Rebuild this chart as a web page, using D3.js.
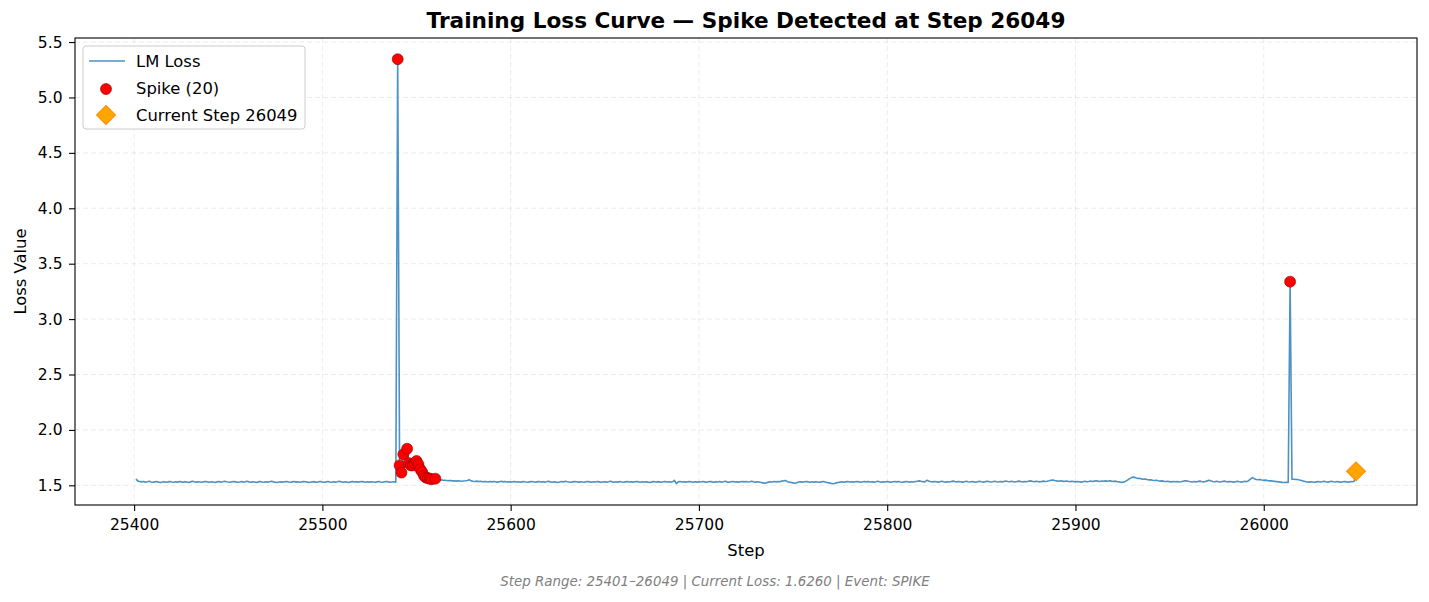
<!DOCTYPE html>
<html lang="en">
<head>
    <meta charset="UTF-8">
    <title>Training Loss Curve</title>
    <script src="https://d3js.org/d3.v7.min.js"></script>
    <style>
        body { margin: 0; background: #fff; }
        svg text { font-family: "DejaVu Sans", sans-serif; }
    </style>
</head>
<body>

<svg id="main" width="1429" height="602"></svg>
<script>

    // loss value for every step, first step = 25401
    const firstStep = 25401;
    const lossValues = [
        1.558, 1.538, 1.535, 1.531, 1.534, 1.529, 1.532, 1.536, 1.530, 1.527, 1.531, 1.534, 1.529, 1.526, 1.530, 1.533, 1.528, 1.531, 1.535, 1.530,
        1.527, 1.532, 1.529, 1.534, 1.531, 1.528, 1.533, 1.530, 1.526, 1.531, 1.536, 1.532, 1.529, 1.533, 1.530, 1.527, 1.532, 1.535, 1.531, 1.528,
        1.533, 1.530, 1.526, 1.531, 1.534, 1.529, 1.532, 1.537, 1.533, 1.530, 1.528, 1.532, 1.535, 1.531, 1.527, 1.530, 1.534, 1.529, 1.532, 1.536,
        1.531, 1.528, 1.533, 1.530, 1.526, 1.531, 1.534, 1.530, 1.527, 1.532, 1.529, 1.533, 1.536, 1.531, 1.528, 1.525, 1.530, 1.533, 1.529, 1.532,
        1.535, 1.530, 1.527, 1.531, 1.534, 1.529, 1.532, 1.528, 1.531, 1.535, 1.532, 1.529, 1.526, 1.530, 1.533, 1.531, 1.528, 1.532, 1.535, 1.530,
        1.527, 1.531, 1.534, 1.530, 1.528, 1.533, 1.529, 1.532, 1.536, 1.531, 1.528, 1.532, 1.529, 1.526, 1.531, 1.534, 1.530, 1.533, 1.529, 1.532,
        1.535, 1.531, 1.528, 1.532, 1.529, 1.533, 1.530, 1.527, 1.531, 1.534, 1.530, 1.528, 1.532, 1.535, 1.531, 1.527, 1.530, 1.533, 1.529, 5.345,
        1.680, 1.615, 1.780, 1.735, 1.830, 1.700, 1.680, 1.680, 1.700, 1.720, 1.690, 1.645, 1.620, 1.585, 1.570, 1.565, 1.560, 1.555, 1.552, 1.560,
        1.556, 1.553, 1.549, 1.547, 1.546, 1.544, 1.542, 1.543, 1.540, 1.541, 1.538, 1.540, 1.539, 1.537, 1.539, 1.541, 1.544, 1.550, 1.540, 1.537,
        1.535, 1.538, 1.534, 1.536, 1.532, 1.535, 1.533, 1.530, 1.534, 1.531, 1.535, 1.532, 1.529, 1.533, 1.536, 1.531, 1.534, 1.530, 1.533, 1.529,
        1.532, 1.535, 1.530, 1.533, 1.528, 1.531, 1.534, 1.530, 1.527, 1.531, 1.535, 1.532, 1.528, 1.531, 1.534, 1.530, 1.533, 1.529, 1.532, 1.536,
        1.531, 1.528, 1.532, 1.529, 1.526, 1.530, 1.534, 1.531, 1.537, 1.533, 1.530, 1.527, 1.531, 1.535, 1.532, 1.529, 1.533, 1.530, 1.527, 1.532,
        1.535, 1.531, 1.528, 1.533, 1.530, 1.534, 1.531, 1.527, 1.530, 1.533, 1.529, 1.532, 1.536, 1.531, 1.528, 1.532, 1.529, 1.534, 1.530, 1.527,
        1.531, 1.534, 1.530, 1.533, 1.529, 1.532, 1.535, 1.531, 1.528, 1.532, 1.530, 1.533, 1.529, 1.526, 1.531, 1.534, 1.530, 1.533, 1.531, 1.528,
        1.532, 1.535, 1.530, 1.533, 1.529, 1.532, 1.545, 1.515, 1.531, 1.534, 1.530, 1.533, 1.529, 1.532, 1.535, 1.531, 1.528, 1.532, 1.529, 1.533,
        1.530, 1.534, 1.531, 1.527, 1.532, 1.535, 1.531, 1.528, 1.533, 1.530, 1.534, 1.529, 1.532, 1.536, 1.531, 1.528, 1.532, 1.535, 1.530, 1.533,
        1.529, 1.532, 1.535, 1.531, 1.534, 1.530, 1.533, 1.537, 1.532, 1.529, 1.533, 1.530, 1.526, 1.522, 1.518, 1.524, 1.529, 1.533, 1.530, 1.534,
        1.531, 1.535, 1.532, 1.538, 1.541, 1.544, 1.533, 1.529, 1.526, 1.522, 1.518, 1.524, 1.530, 1.533, 1.529, 1.532, 1.535, 1.531, 1.528, 1.532,
        1.529, 1.533, 1.530, 1.527, 1.531, 1.534, 1.530, 1.526, 1.522, 1.518, 1.514, 1.517, 1.522, 1.526, 1.529, 1.532, 1.528, 1.531, 1.534, 1.530,
        1.533, 1.529, 1.532, 1.535, 1.531, 1.528, 1.532, 1.535, 1.531, 1.534, 1.530, 1.533, 1.529, 1.532, 1.536, 1.532, 1.529, 1.533, 1.530, 1.534,
        1.531, 1.528, 1.532, 1.535, 1.531, 1.534, 1.530, 1.527, 1.531, 1.535, 1.532, 1.529, 1.533, 1.530, 1.534, 1.537, 1.540, 1.536, 1.533, 1.531,
        1.545, 1.538, 1.534, 1.531, 1.535, 1.532, 1.529, 1.533, 1.536, 1.532, 1.529, 1.533, 1.530, 1.534, 1.538, 1.534, 1.531, 1.535, 1.532, 1.529,
        1.533, 1.537, 1.533, 1.530, 1.534, 1.531, 1.528, 1.532, 1.536, 1.532, 1.529, 1.533, 1.537, 1.534, 1.530, 1.533, 1.537, 1.533, 1.530, 1.534,
        1.531, 1.535, 1.539, 1.535, 1.532, 1.536, 1.533, 1.530, 1.534, 1.538, 1.534, 1.531, 1.535, 1.532, 1.536, 1.540, 1.536, 1.533, 1.537, 1.534,
        1.531, 1.535, 1.538, 1.534, 1.537, 1.541, 1.546, 1.548, 1.543, 1.540, 1.537, 1.541, 1.538, 1.535, 1.539, 1.536, 1.533, 1.537, 1.534, 1.531,
        1.535, 1.532, 1.529, 1.533, 1.536, 1.532, 1.535, 1.539, 1.535, 1.538, 1.542, 1.538, 1.535, 1.539, 1.536, 1.540, 1.537, 1.541, 1.538, 1.535,
        1.538, 1.534, 1.531, 1.528, 1.527, 1.531, 1.540, 1.552, 1.563, 1.572, 1.574, 1.568, 1.562, 1.563, 1.558, 1.555, 1.556, 1.552, 1.549, 1.550,
        1.546, 1.544, 1.545, 1.541, 1.538, 1.540, 1.536, 1.534, 1.537, 1.533, 1.531, 1.535, 1.532, 1.534, 1.530, 1.533, 1.537, 1.542, 1.540, 1.536,
        1.533, 1.530, 1.534, 1.531, 1.535, 1.538, 1.534, 1.531, 1.535, 1.540, 1.545, 1.539, 1.535, 1.532, 1.536, 1.533, 1.530, 1.535, 1.538, 1.534,
        1.531, 1.535, 1.532, 1.529, 1.533, 1.536, 1.532, 1.529, 1.533, 1.537, 1.533, 1.542, 1.558, 1.570, 1.560, 1.552, 1.550, 1.553, 1.548, 1.545,
        1.547, 1.543, 1.540, 1.542, 1.538, 1.536, 1.533, 1.531, 1.529, 1.527, 1.526, 1.528, 1.527, 3.338, 1.556, 1.555, 1.552, 1.553, 1.548, 1.544,
        1.538, 1.534, 1.531, 1.529, 1.532, 1.530, 1.527, 1.531, 1.534, 1.530, 1.533, 1.536, 1.532, 1.529, 1.533, 1.537, 1.533, 1.530, 1.534, 1.531,
        1.528, 1.532, 1.535, 1.531, 1.529, 1.533, 1.532, 1.536, 1.626
    ];

    // steps flagged as spikes
    const spikeSteps = [25540, 25541, 25542, 25543, 25545, 25546, 25547, 25548, 25549, 25550,
        25551, 25552, 25553, 25554, 25555, 25556, 25557, 25558, 25560, 26014];

    const currentStep = 26049;
    const currentLoss = 1.6260;

    const xTicks = [25400, 25500, 25600, 25700, 25800, 25900, 26000];
    const yTicks = [1.5, 2.0, 2.5, 3.0, 3.5, 4.0, 4.5, 5.0, 5.5];

    const data = lossValues.map((v, i) => ({step: firstStep + i, loss: v}));
    const spikes = spikeSteps.map(s => ({step: s, loss: lossValues[s - firstStep]}));

    const svg = d3.select('svg#main');
    const margin = {left: 75, right: 1417, top: 38, bottom: 505};

    // matplotlib style 5% padding
    const lastStep = firstStep + lossValues.length - 1;
    const xPad = (lastStep - firstStep) * 0.05;
    const yMin = d3.min(lossValues), yMax = d3.max(lossValues);
    const yPad = (yMax - yMin) * 0.05;

    const x = d3.scaleLinear().domain([firstStep - xPad, lastStep + xPad]).range([margin.left, margin.right]);
    const y = d3.scaleLinear().domain([yMin - yPad, yMax + yPad]).range([margin.bottom, margin.top]);

    // grid
    const grid = svg.append('g');
    grid.selectAll('line.gx').data(xTicks).enter().append('line')
        .attr('x1', d => x(d)).attr('x2', d => x(d))
        .attr('y1', margin.top).attr('y2', margin.bottom)
        .attr('stroke', '#b0b0b0').attr('stroke-opacity', 0.3)
        .attr('stroke-width', 0.8).attr('stroke-dasharray', '5,3');
    grid.selectAll('line.gy').data(yTicks).enter().append('line')
        .attr('x1', margin.left).attr('x2', margin.right)
        .attr('y1', d => y(d)).attr('y2', d => y(d))
        .attr('stroke', '#b0b0b0').attr('stroke-opacity', 0.3)
        .attr('stroke-width', 0.8).attr('stroke-dasharray', '5,3');

    // loss line
    const line = d3.line().x(d => x(d.step)).y(d => y(d.loss));
    svg.append('path')
        .datum(data)
        .attr('d', line)
        .attr('fill', 'none')
        .attr('stroke', '#1f77b4')
        .attr('stroke-opacity', 0.8)
        .attr('stroke-width', 1.6)
        .attr('stroke-linejoin', 'round');

    // spike points
    svg.selectAll('circle.spike').data(spikes).enter().append('circle')
        .attr('cx', d => x(d.step)).attr('cy', d => y(d.loss))
        .attr('r', 5.5)
        .attr('fill', 'red')
        .attr('stroke', '#8b0000').attr('stroke-width', 0.6);

    // current step diamond
    const diamond = d3.symbol().type(d3.symbolSquare).size(180);
    svg.append('path')
        .attr('d', diamond)
        .attr('transform', `translate(${x(currentStep)},${y(currentLoss)}) rotate(45)`)
        .attr('fill', 'orange')
        .attr('stroke', 'darkorange').attr('stroke-width', 1);

    // axes
    const xAxis = d3.axisBottom(x).tickValues(xTicks).tickSize(6).tickPadding(8).tickFormat(d3.format('d'));
    const yAxis = d3.axisLeft(y).tickValues(yTicks).tickSize(6).tickPadding(6.5).tickFormat(d3.format('.1f'));

    const gx = svg.append('g').attr('transform', `translate(0,${margin.bottom})`).call(xAxis);
    const gy = svg.append('g').attr('transform', `translate(${margin.left},0)`).call(yAxis);
    [gx, gy].forEach(g => {
        g.select('.domain').remove();
        g.selectAll('text').attr('font-size', '15.5px').attr('fill', '#000')
            .style('font-family', '"DejaVu Sans", sans-serif');
        g.selectAll('line').attr('stroke', '#000').attr('stroke-width', 1.1);
    });

    // frame
    svg.append('rect')
        .attr('x', margin.left).attr('y', margin.top)
        .attr('width', margin.right - margin.left).attr('height', margin.bottom - margin.top)
        .attr('fill', 'none').attr('stroke', '#000').attr('stroke-width', 1.1);

    // labels
    svg.append('text')
        .attr('x', (margin.left + margin.right) / 2).attr('y', 28)
        .attr('text-anchor', 'middle').attr('font-size', '21.6px').attr('font-weight', 'bold')
        .text('Training Loss Curve — Spike Detected at Step 26049');

    svg.append('text')
        .attr('x', (margin.left + margin.right) / 2).attr('y', 556)
        .attr('text-anchor', 'middle').attr('font-size', '16.4px')
        .text('Step');

    svg.append('text')
        .attr('transform', `translate(26,${(margin.top + margin.bottom) / 2}) rotate(-90)`)
        .attr('text-anchor', 'middle').attr('font-size', '16.4px')
        .text('Loss Value');

    svg.append('text')
        .attr('x', 715).attr('y', 586)
        .attr('text-anchor', 'middle').attr('font-size', '13.4px')
        .attr('font-style', 'italic').attr('fill', 'gray')
        .text(`Step Range: ${firstStep}–${lastStep} | Current Loss: ${currentLoss.toFixed(4)} | Event: SPIKE`);

    // legend
    const legend = svg.append('g').attr('transform', 'translate(83,46)');
    legend.append('rect')
        .attr('width', 222).attr('height', 83).attr('rx', 3)
        .attr('fill', '#fff').attr('fill-opacity', 0.8)
        .attr('stroke', '#cccccc').attr('stroke-width', 1);
    legend.append('line')
        .attr('x1', 6).attr('x2', 42).attr('y1', 15).attr('y2', 15)
        .attr('stroke', '#1f77b4').attr('stroke-opacity', 0.8).attr('stroke-width', 1.6);
    legend.append('circle')
        .attr('cx', 23).attr('cy', 43).attr('r', 5.5)
        .attr('fill', 'red').attr('stroke', '#8b0000').attr('stroke-width', 0.6);
    legend.append('path')
        .attr('d', diamond)
        .attr('transform', 'translate(23,69) rotate(45)')
        .attr('fill', 'orange').attr('stroke', 'darkorange').attr('stroke-width', 1);
    const legendLabels = ['LM Loss', `Spike (${spikes.length})`, `Current Step ${currentStep}`];
    legend.selectAll('text.lab').data(legendLabels).enter().append('text')
        .attr('x', 53).attr('y', (d, i) => 21 + i * 27)
        .attr('font-size', '16.4px')
        .text(d => d);

</script>
</body>
</html>
